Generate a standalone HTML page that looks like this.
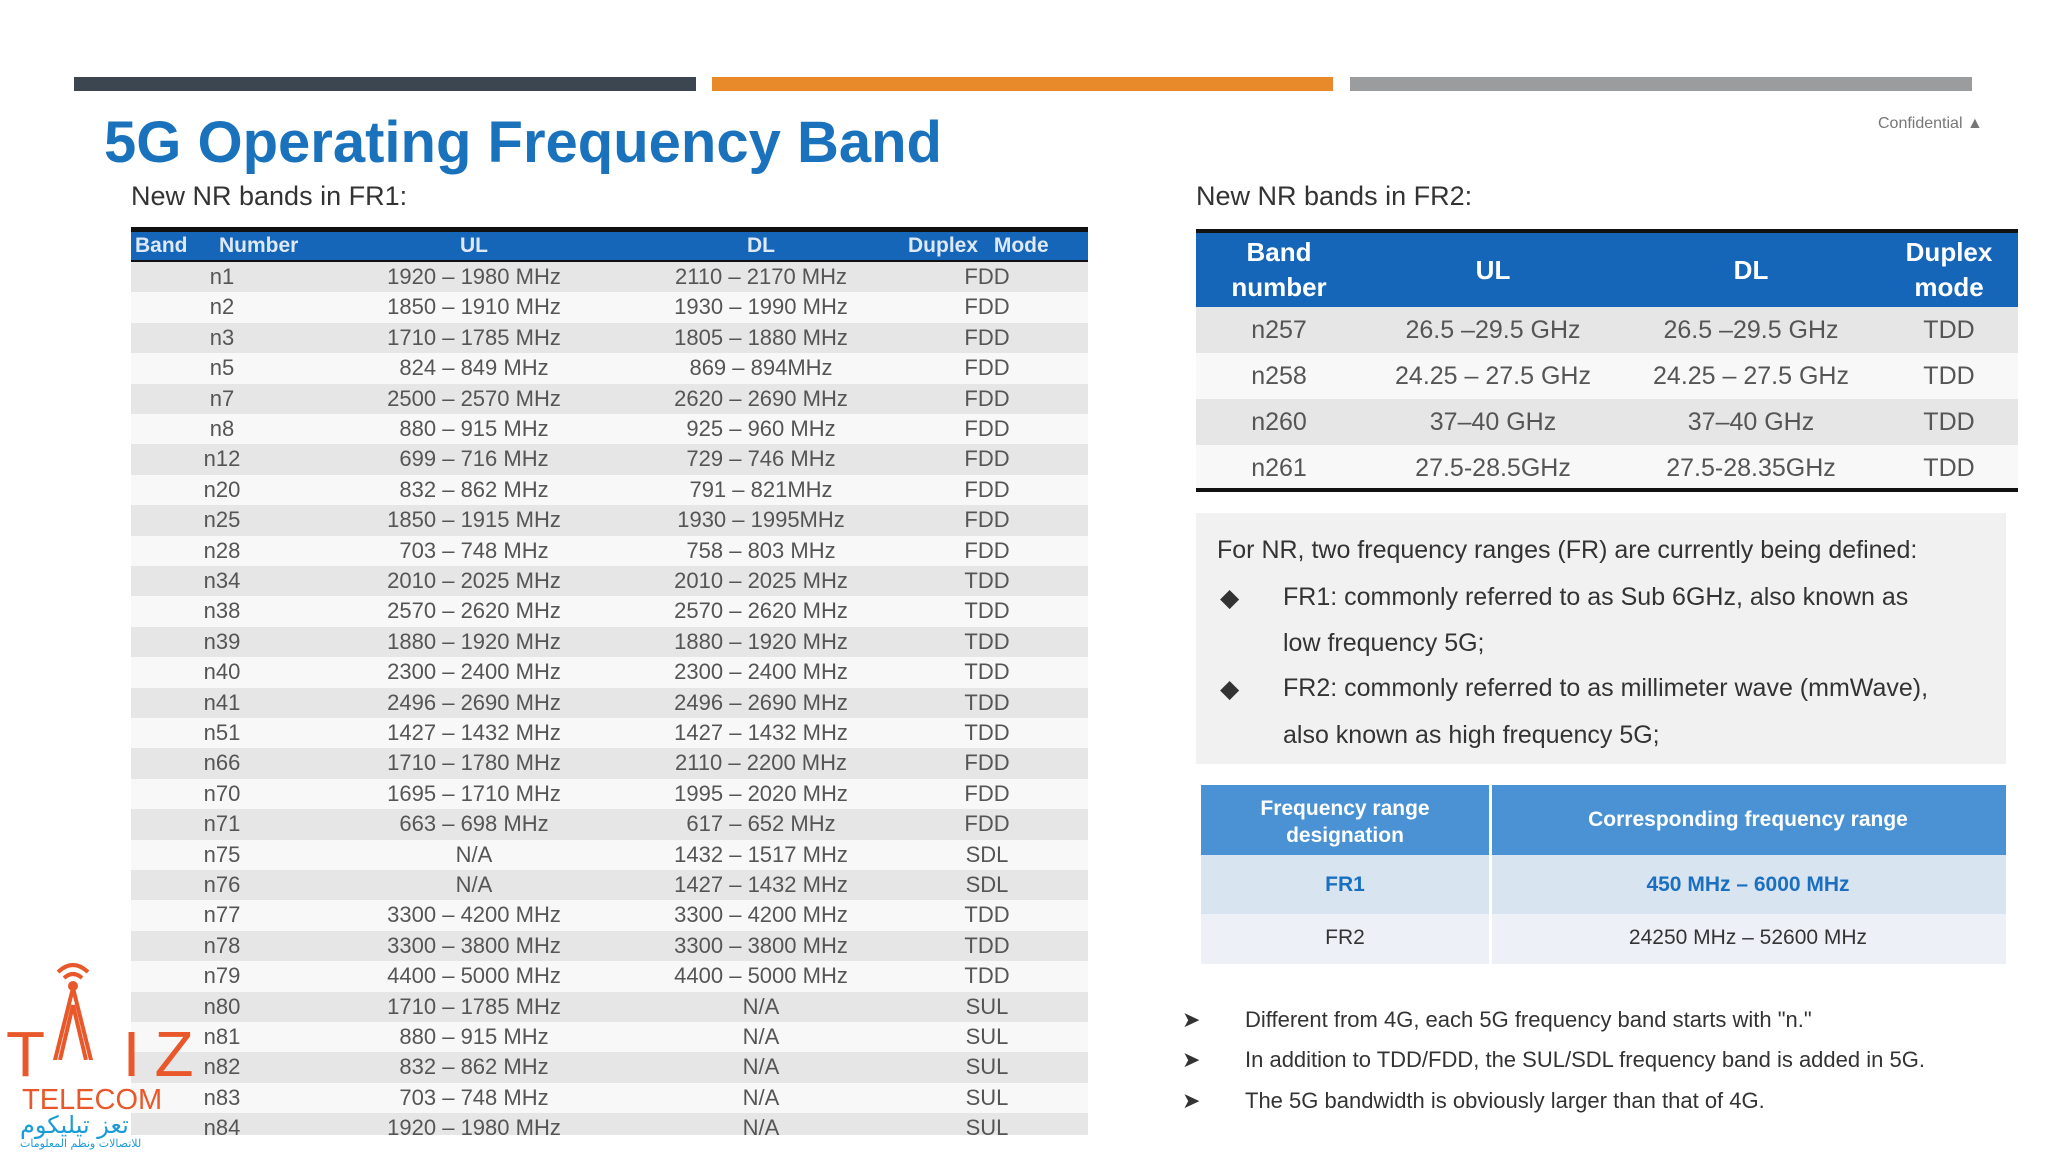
<!DOCTYPE html>
<html><head><meta charset="utf-8"><style>
*{margin:0;padding:0;box-sizing:border-box}
body{width:2048px;height:1152px;background:#fff;position:relative;overflow:hidden;font-family:"Liberation Sans",sans-serif}
.a{position:absolute}
.c{position:absolute;transform:translateX(-50%);white-space:nowrap}
.t1 .r{position:absolute;left:131px;width:957px;height:30.4px;font-size:22px;color:#555;line-height:30.4px}
.t2 .r{position:absolute;left:1196px;width:822px;height:46.4px;font-size:25px;color:#555;line-height:46.4px}
.hdr{color:#fff;font-weight:bold}
.bl{position:absolute;font-size:25px;color:#333;white-space:nowrap}
</style></head><body>
<div class="a" style="left:74px;top:77px;width:622px;height:14px;background:#3c4650"></div>
<div class="a" style="left:712px;top:77px;width:621px;height:14px;background:#e8892a"></div>
<div class="a" style="left:1350px;top:77px;width:622px;height:14px;background:#9a9c9e"></div>
<div class="a" style="left:104px;top:109px;font-size:58px;font-weight:bold;color:#1a72bd;white-space:nowrap">5G Operating Frequency Band</div>
<div class="a" style="left:1878px;top:115px;font-size:16px;color:#777">Confidential ▲</div>
<div class="a" style="left:131px;top:181px;font-size:27px;color:#333">New NR bands in FR1:</div>
<div class="a" style="left:1196px;top:181px;font-size:27px;color:#333">New NR bands in FR2:</div>

<div class="t1" id="t1">
<div class="a" style="left:131px;top:227px;width:957px;height:36px;background:#1565b8;border-top:5px solid #111;border-bottom:3px solid #111;color:#dfe9f5;font-weight:bold;font-size:21px;line-height:28px">
<span class="a" style="left:4px">Band</span><span class="a" style="left:88px">Number</span><span class="c" style="left:343px">UL</span><span class="c" style="left:630px">DL</span><span class="a" style="left:777px;word-spacing:10px">Duplex Mode</span></div>
</div>

<div class="t2" id="t2">
<div class="a hdr" style="left:1196px;top:229px;width:822px;height:78px;background:#1565b8;border-top:4px solid #111;font-size:26px;line-height:35px">
<span class="c" style="left:83px;text-align:center;top:2px">Band<br>number</span><span class="c" style="left:297px;top:20px">UL</span><span class="c" style="left:555px;top:20px">DL</span><span class="c" style="left:753px;text-align:center;top:2px">Duplex<br>mode</span></div>
<div class="a" style="left:1196px;top:488px;width:822px;height:4px;background:#111;z-index:2"></div>
</div>

<div class="a" style="left:1196px;top:513px;width:810px;height:251px;background:#f1f1f1"></div>
<div class="bl" style="left:1217px;top:536px">For NR, two frequency ranges (FR) are currently being defined:</div>
<div class="bl" style="left:1220px;top:583px">◆</div>
<div class="bl" style="left:1283px;top:583px">FR1: commonly referred to as Sub 6GHz, also known as</div>
<div class="bl" style="left:1283px;top:629px">low frequency 5G;</div>
<div class="bl" style="left:1220px;top:674px">◆</div>
<div class="bl" style="left:1283px;top:674px">FR2: commonly referred to as millimeter wave (mmWave),</div>
<div class="bl" style="left:1283px;top:721px">also known as high frequency 5G;</div>

<div class="a" style="left:1201px;top:785px;width:805px;height:179px">
<div class="a" style="left:0;top:0;width:805px;height:70px;background:#4a92d4"></div>
<div class="c" style="left:144px;top:10px;color:#fff;font-weight:bold;font-size:21px;text-align:center;line-height:27px">Frequency range<br>designation</div>
<div class="c" style="left:547px;top:23px;color:#fff;font-weight:bold;font-size:21px">Corresponding frequency range</div>
<div class="a" style="left:0;top:70px;width:805px;height:59px;background:#d9e4f1"></div>
<div class="c" style="left:144px;top:88px;color:#1b6fc0;font-weight:bold;font-size:21px">FR1</div>
<div class="c" style="left:547px;top:88px;color:#1b6fc0;font-weight:bold;font-size:21px">450 MHz – 6000 MHz</div>
<div class="a" style="left:0;top:129px;width:805px;height:50px;background:#edf1f7"></div>
<div class="c" style="left:144px;top:141px;color:#333;font-size:21px">FR2</div>
<div class="c" style="left:547px;top:141px;color:#333;font-size:21px">24250 MHz – 52600 MHz</div>
<div class="a" style="left:288px;top:0;width:3px;height:179px;background:#fff"></div>
</div>

<div class="bl" style="left:1182px;top:1007px;font-size:22px">➤<span style="position:absolute;left:63px">Different from 4G, each 5G frequency band starts with "n."</span></div>
<div class="bl" style="left:1182px;top:1047px;font-size:22px">➤<span style="position:absolute;left:63px">In addition to TDD/FDD, the SUL/SDL frequency band is added in 5G.</span></div>
<div class="bl" style="left:1182px;top:1088px;font-size:22px">➤<span style="position:absolute;left:63px">The 5G bandwidth is obviously larger than that of 4G.</span></div>

<div class="a" style="left:0;top:950px;width:180px;height:200px">
<svg class="a" style="left:0;top:0" width="180" height="110"><g fill="none" stroke="#e8582a" stroke-width="4"><path d="M58 22 Q73 8 88 22"/><path d="M64 28 Q73 20 82 28"/><path d="M73 38 L50 130 M73 38 L96 130 M73 55 L60 110 M73 55 L86 110"/></g><circle cx="73" cy="36" r="5" fill="#e8582a"/></svg>
<div class="a" style="left:6px;top:72px;font-size:64px;color:#e8582a;letter-spacing:14px;line-height:64px">T&nbsp;&nbsp;IZ</div>
<div class="a" style="left:22px;top:135px;font-size:29px;color:#e8582a;line-height:30px">TELECOM</div>
<div class="a" style="left:20px;top:162px;font-size:24px;color:#1a9cd8;line-height:26px;font-family:'DejaVu Sans',sans-serif">تعز تيليكوم</div>
<div class="a" style="left:20px;top:187px;font-size:11px;color:#1a9cd8;font-family:'DejaVu Sans',sans-serif">للاتصالات ونظم المعلومات</div>
</div>

<script>
const bands=["n1","n2","n3","n5","n7","n8","n12","n20","n25","n28","n34","n38","n39","n40","n41","n51","n66","n70","n71","n75","n76","n77","n78","n79","n80","n81","n82","n83","n84"];
const ul=["1920 – 1980 MHz","1850 – 1910 MHz","1710 – 1785 MHz","824 – 849 MHz","2500 – 2570 MHz","880 – 915 MHz","699 – 716 MHz","832 – 862 MHz","1850 – 1915 MHz","703 – 748 MHz","2010 – 2025 MHz","2570 – 2620 MHz","1880 – 1920 MHz","2300 – 2400 MHz","2496 – 2690 MHz","1427 – 1432 MHz","1710 – 1780 MHz","1695 – 1710 MHz","663 – 698 MHz","N/A","N/A","3300 – 4200 MHz","3300 – 3800 MHz","4400 – 5000 MHz","1710 – 1785 MHz","880 – 915 MHz","832 – 862 MHz","703 – 748 MHz","1920 – 1980 MHz"];
const dl=["2110 – 2170 MHz","1930 – 1990 MHz","1805 – 1880 MHz","869 – 894MHz","2620 – 2690 MHz","925 – 960 MHz","729 – 746 MHz","791 – 821MHz","1930 – 1995MHz","758 – 803 MHz","2010 – 2025 MHz","2570 – 2620 MHz","1880 – 1920 MHz","2300 – 2400 MHz","2496 – 2690 MHz","1427 – 1432 MHz","2110 – 2200 MHz","1995 – 2020 MHz","617 – 652 MHz","1432 – 1517 MHz","1427 – 1432 MHz","3300 – 4200 MHz","3300 – 3800 MHz","4400 – 5000 MHz","N/A","N/A","N/A","N/A","N/A"];
const duplex=["FDD","FDD","FDD","FDD","FDD","FDD","FDD","FDD","FDD","FDD","TDD","TDD","TDD","TDD","TDD","TDD","FDD","FDD","FDD","SDL","SDL","TDD","TDD","TDD","SUL","SUL","SUL","SUL","SUL"];
const b2=["n257","n258","n260","n261"];
const ul2=["26.5 –29.5  GHz","24.25 – 27.5  GHz","37–40  GHz","27.5-28.5GHz"];
const dl2=["26.5 –29.5  GHz","24.25 – 27.5  GHz","37–40  GHz","27.5-28.35GHz"];
const dup2=["TDD","TDD","TDD","TDD"];
function cell(row,txt,x){const s=document.createElement('span');s.className='c';s.style.left=x+'px';s.textContent=txt;row.appendChild(s);}
const t1=document.getElementById('t1');
bands.forEach((b,i)=>{const r=document.createElement('div');r.className='r';


r.style.top=(262+i*30.4)+'px';r.style.background=i%2===0?'#e6e6e6':'#f8f8f8';
if(i===28){r.style.height='22px';r.style.overflow='hidden';}
cell(r,b,91);cell(r,ul[i],343);cell(r,dl[i],630);cell(r,duplex[i],856);t1.appendChild(r);});
const t2=document.getElementById('t2');
b2.forEach((b,i)=>{const r=document.createElement('div');r.className='r';


r.style.top=(307+i*46)+'px';r.style.background=i%2===0?'#e6e6e6':'#f8f8f8';
cell(r,b,83);cell(r,ul2[i],297);cell(r,dl2[i],555);cell(r,dup2[i],753);t2.appendChild(r);});
</script>
</body></html>
